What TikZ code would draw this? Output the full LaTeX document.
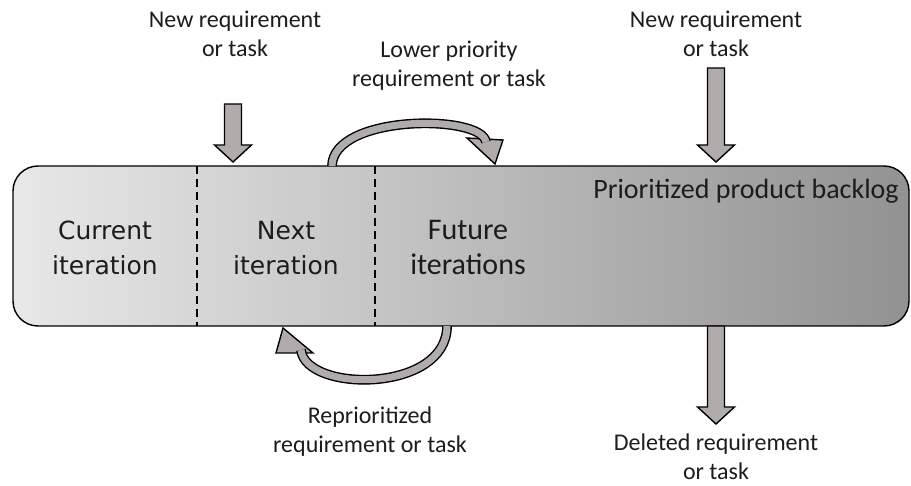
\documentclass[tikz,border=0pt]{standalone}
\usepackage{fontspec}
\setmainfont{Carlito}
\newfontfamily\dejavu{DejaVu Sans}
\definecolor{arrowfill}{RGB}{176,172,172}
\definecolor{inktext}{RGB}{28,28,28}
\definecolor{boxlight}{RGB}{232,232,232}
\definecolor{boxdark}{RGB}{146,146,146}
\begin{document}
\begin{tikzpicture}[x=1pt,y=-1pt,
  note/.style={font=\fontsize{24}{29}\selectfont, align=center, anchor=base,
    inner sep=0pt, text=inktext},
  stage/.style={font=\dejavu\fontsize{25}{35}\selectfont, align=center, anchor=base,
    inner sep=0pt, text=inktext},
  stagecal/.style={font=\fontsize{30}{35}\selectfont, align=center, anchor=base,
    inner sep=0pt, text=inktext},
  backlogbox/.style={draw=black, line width=1.4pt, rounded corners=25pt,
    left color=boxlight, right color=boxdark, minimum width=896pt,
    minimum height=160pt, inner sep=0pt},
  arrowbody/.style={draw=black, fill=arrowfill, line width=1.4pt, line join=miter},
  curveshaft/.style={draw=black, line width=1.4pt, double=arrowfill,
    double distance=7pt},
  divider/.style={line width=1.4pt, dash pattern=on 8pt off 5pt}
]
\useasboundingbox (0,0) rectangle (911,486);

% the backlog bar
\node[backlogbox] (backlog) at (461,246) {};
\coordinate (d1top) at (197,166);
\coordinate (d1bot) at (197,326);
\coordinate (d2top) at (375,166);
\coordinate (d2bot) at (375,326);
\draw[divider] (d1top) -- (d1bot);
\draw[divider] (d2top) -- (d2bot);

% straight block arrows: centre x, top y, head y, tip y
\newcommand\blockdown[4]{%
  \draw[arrowbody] ({#1-8.5},#2) -- ({#1+8.5},#2) -- ({#1+8.5},#3) --
    ({#1+18.5},#3) -- (#1,#4) -- ({#1-18.5},#3) -- ({#1-8.5},#3) -- cycle;}
\blockdown{233}{104}{145}{162}
\blockdown{716}{68}{145}{162}
\blockdown{716}{326}{407}{424}

% curved arrow over the bar
\coordinate (upstart) at (332,166);
\coordinate (upend) at (486,142);
\draw[arrowbody] (467,138) -- (503,140) -- (495,164) -- cycle;
\draw[curveshaft] (upstart) .. controls (333,114) and (482,114) .. (upend);

% curved arrow under the bar
\coordinate (lowstart) at (447,326);
\coordinate (lowend) at (301,350);
\draw[arrowbody] (276,353) -- (313,353) -- (283,328) -- cycle;
\draw[curveshaft] (lowstart) .. controls (447,393) and (306,393) .. (lowend);

% labels (anchored on the baseline of their last line)
\node[note] (newleft) at (235,57) {New requirement\\or task};
\node[note] (newright) at (716,57) {New requirement\\or task};
\node[note] (lower) at (449,87) {Lower priority\\requirement or task};
\node[note] (reprio) at (370,453) {Reprioritized\\requirement or task};
\node[note] (deleted) at (716,479) {Deleted requirement\\or task};
\node[font=\fontsize{28}{34}\selectfont, anchor=base, inner sep=0pt, text=inktext]
  (title) at (746,199) {Prioritized product backlog};
\node[stage] (current) at (105,275) {Current\\iteration};
\node[stage] (next) at (286,275) {Next\\iteration};
\node[stagecal] (future) at (468,275) {Future\\iterations};
\end{tikzpicture}
\end{document}
